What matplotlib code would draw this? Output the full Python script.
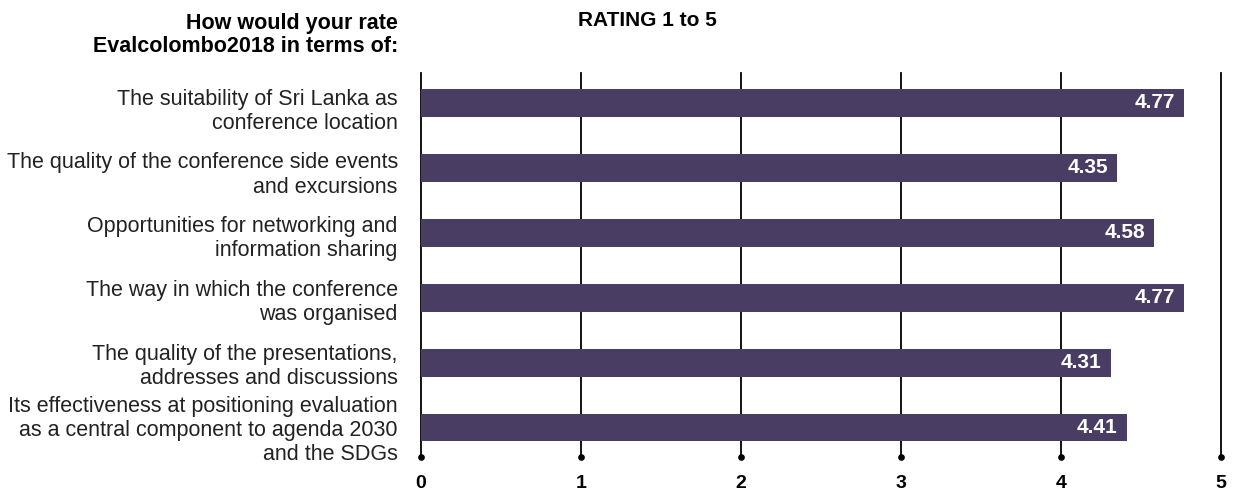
import matplotlib.pyplot as plt
import numpy as np

plt.rcParams['font.family'] = ['Liberation Sans', 'DejaVu Sans']

# data
questions = [
    "The suitability of Sri Lanka as\nconference location",
    "The quality of the conference side events\nand excursions",
    "Opportunities for networking and\ninformation sharing",
    "The way in which the conference\nwas organised",
    "The quality of the presentations,\naddresses and discussions",
    "Its effectiveness at positioning evaluation\nas a central component to agenda 2030\nand the SDGs",
]
ratings = [4.77, 4.35, 4.58, 4.77, 4.31, 4.41]
ticks = [0, 1, 2, 3, 4, 5]

bar_col = '#4a3d63'

fig = plt.figure(figsize=(12.35, 4.93), dpi=100)
ax = fig.add_axes([421 / 1235, 35 / 493, 800 / 1235, 385 / 493])

ypos = np.arange(len(questions))

# vertical lines with a dot at the bottom
for t in ticks:
    ax.plot([t, t], [5.45, -0.46], color='black', lw=1.3, zorder=1, clip_on=False)
    ax.plot(t, 5.45, 'o', color='black', ms=3.8, zorder=1, clip_on=False)

ax.barh(ypos, ratings, height=0.43, color=bar_col, zorder=2)

for y, v in zip(ypos, ratings):
    ax.text(v - 0.055, y, f"{v:.2f}", color='white', fontweight='bold',
            fontsize=15, ha='right', va='center', zorder=3)

label_off = [0.13, 0.11, 0.09, 0.07, 0.06, 0.05]
for y, q, o in zip(ypos, questions, label_off):
    ax.text(-0.145, y + o, q, ha='right', va='center', fontsize=15.5,
            color='#222222', linespacing=1.2)

ax.set_xlim(0, 5)
ax.set_ylim(5.47, -0.46)
ax.set_xticks([])
ax.set_yticks([])
for s in ax.spines.values():
    s.set_visible(False)

for t in ticks:
    fig.text((421 + 160 * t) / 1235, 1 - 484 / 493, str(t), ha='center', va='center',
             fontsize=14, fontweight='bold')

fig.text(398 / 1235, 1 - 35 / 493, "How would your rate\nEvalcolombo2018 in terms of:",
         ha='right', va='center', fontsize=15.5, fontweight='bold', linespacing=1.1)
fig.text(647 / 1235, 1 - 20 / 493, "RATING 1 to 5", ha='center', va='center',
         fontsize=15, fontweight='bold')

fig.savefig('out.png', dpi=100)
